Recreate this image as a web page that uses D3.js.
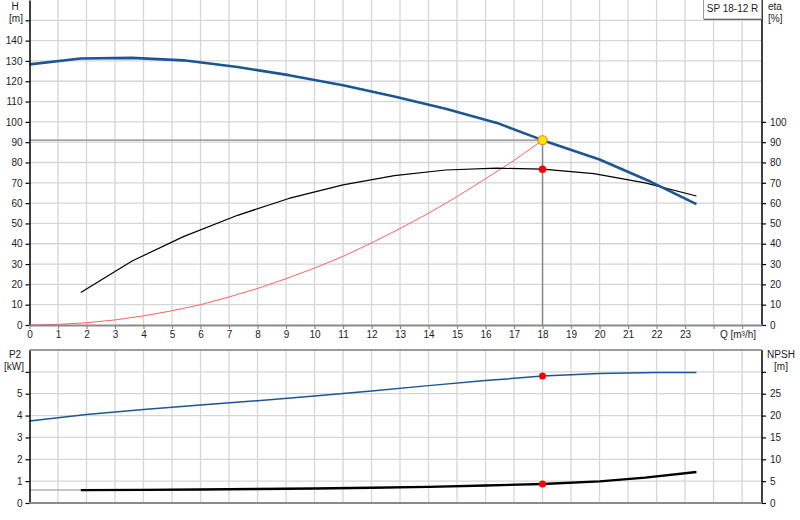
<!DOCTYPE html>
<html>
<head>
<meta charset="utf-8">
<script src="https://cdn.jsdelivr.net/npm/d3@7"></script>
<style>
  body { margin: 0; background: #fff; }
  svg text { font-family: "Liberation Sans", Arial, sans-serif; font-size: 10px; fill: #1c1c28; }
</style>
</head>
<body>
<svg id="chart" width="800" height="520"></svg>
<script>
// pump data
var qTicks = d3.range(0, 26);            // 0..25, only 0..23 carry a label
var hTicks = d3.range(0, 160, 10);       // 0..150
var etaTicks = d3.range(0, 110, 10);     // 0..100
var p2Ticks = d3.range(0, 7);            // 0..6
var npshTicks = d3.range(0, 35, 5);      // 0..30

// head curve H [m]
var qHead = [0, 1.8, 3.6, 5.4, 7.3, 9.1, 11, 12.8, 14.6, 16.4, 18, 20, 21.8, 23.4];
var head = [128.3, 131.2, 131.5, 130.3, 127, 123, 118, 112.5, 106.5, 99.5, 91, 81.5, 70.5, 59.5];

// efficiency eta [%]
var qEta = [1.8, 3.6, 5.4, 7.3, 9.1, 11, 12.8, 14.6, 16.4, 18, 19.8, 21.6, 23.4];
var eta = [16, 31.5, 43.5, 54, 62.3, 69, 73.5, 76.3, 77.2, 76.7, 74.5, 70, 63.5];

// system curve (red) up to the duty point
var qSystem = [0, 1, 2, 3, 4, 5, 6, 7, 8, 9, 10, 11, 12, 13, 14, 15, 16, 17, 18];
var system = [0, 0.3, 1.1, 2.5, 4.5, 7, 10, 13.8, 18, 22.8, 28, 33.8, 40.4, 47.5, 55, 63.2, 72, 81, 91];

// shaft power P2 [kW]
var qPower = [0, 2, 4, 6, 8, 10, 12, 14, 16, 18, 20, 22, 23.4];
var power = [3.75, 4.05, 4.28, 4.48, 4.68, 4.9, 5.12, 5.37, 5.6, 5.81, 5.93, 5.97, 5.97];

// NPSH [m]
var qNpsh = [1.8, 4, 6, 8, 10, 12, 14, 16, 18, 20, 21.6, 23.4];
var npsh = [2.95, 3.0, 3.1, 3.2, 3.3, 3.5, 3.7, 4.0, 4.35, 4.95, 5.8, 7.1];
var qNpshLow = [0, 1.8];
var npshLow = [2.95, 2.95];

// duty point
var dutyQ = 18, dutyH = 91, dutyEta = 76.7, dutyP2 = 5.81, dutyNpsh = 4.35;

var svg = d3.select('#chart');

var xLeft = 29.5, xRight = 762;
var x = d3.scaleLinear().domain([0, 25.7]).range([xLeft, xRight]);

// upper plot: H and eta share the same scale
var topY0 = 325, topY1 = 0;
var yH = d3.scaleLinear().domain([0, 160]).range([topY0, topY1]);

// lower plot: P2 left, NPSH right (5 m = 1 kW)
var botY0 = 503, botY1 = 350;
var yP = d3.scaleLinear().domain([0, 7]).range([botY0, botY1]);
var yN = d3.scaleLinear().domain([0, 35]).range([botY0, botY1]);

var gridColor = '#d6d6d6';

/**
 * vertical + horizontal grid for one panel
 */
function drawGrid(yScale, yValues, yTop, yBottom) {
	var g = svg.append('g').attr('class', 'grid');
	g.selectAll('line.v').data(qTicks.slice(1)).enter().append('line')
		.attr('x1', function(d) { return x(d); })
		.attr('x2', function(d) { return x(d); })
		.attr('y1', yTop).attr('y2', yBottom)
		.style('stroke', gridColor).style('stroke-width', 1.3);
	g.selectAll('line.h').data(yValues.slice(1)).enter().append('line')
		.attr('x1', xLeft).attr('x2', xRight)
		.attr('y1', function(d) { return yScale(d); })
		.attr('y2', function(d) { return yScale(d); })
		.style('stroke', gridColor).style('stroke-width', 1.3);
}

drawGrid(yH, hTicks, topY0, topY1);
drawGrid(yP, p2Ticks, botY0, botY1);

function pairs(xs, ys) {
	return xs.map(function(q, i) { return [q, ys[i]]; });
}

function drawCurve(xs, ys, yScale, color, width) {
	var line = d3.line()
		.x(function(d) { return x(d[0]); })
		.y(function(d) { return yScale(d[1]); });
	svg.append('path')
		.datum(pairs(xs, ys))
		.attr('d', line)
		.style('fill', 'none')
		.style('stroke', color)
		.style('stroke-width', width)
		.style('stroke-linejoin', 'round');
}

// duty point guide lines (H to the left axis, Q down to the x axis)
svg.append('line')
	.attr('x1', xLeft).attr('x2', x(dutyQ))
	.attr('y1', yH(dutyH)).attr('y2', yH(dutyH))
	.style('stroke', '#858585').style('stroke-width', 1.4);
svg.append('line')
	.attr('x1', x(dutyQ)).attr('x2', x(dutyQ))
	.attr('y1', yH(dutyH)).attr('y2', topY0)
	.style('stroke', '#858585').style('stroke-width', 1.4);

// upper curves
drawCurve(qSystem, system, yH, '#ff6060', 1);
drawCurve(qEta, eta, yH, '#000', 1.2);
drawCurve(qHead, head, yH, '#1c5694', 2.6);

// lower curves
drawCurve(qPower, power, yP, '#1c5694', 1.5);
drawCurve(qNpshLow, npshLow, yN, '#b0b0b0', 1.5);
drawCurve(qNpsh, npsh, yN, '#000', 2.4);

// markers
svg.append('circle').attr('cx', x(dutyQ)).attr('cy', yH(dutyEta)).attr('r', 3.8).style('fill', '#ff0000');
svg.append('circle').attr('cx', x(dutyQ)).attr('cy', yP(dutyP2)).attr('r', 3.5).style('fill', '#ff0000');
svg.append('circle').attr('cx', x(dutyQ)).attr('cy', yN(dutyNpsh)).attr('r', 3.5).style('fill', '#ff0000');
svg.append('circle').attr('cx', x(dutyQ)).attr('cy', yH(dutyH)).attr('r', 4.5)
	.style('fill', '#ffe800').style('stroke', '#ff8a20').style('stroke-width', 1.3);

/**
 * style an axis group: black domain + ticks, labels in the chart font
 */
function styleAxis(g, color) {
	g.select('.domain').style('stroke', color).style('stroke-width', 1.5);
	g.selectAll('.tick line').style('stroke', color).style('stroke-width', 1.2);
	g.selectAll('.tick text').style('font-size', '10px').style('font-family', '"Liberation Sans", Arial, sans-serif').attr('fill', '#1c1c28');
}

// upper plot axes
var axH = d3.axisLeft(yH).tickValues(hTicks).tickSize(4).tickPadding(3).tickSizeOuter(0)
	.tickFormat(function(d) { return d < 150 ? d : ''; });
var gH = svg.append('g').attr('transform', 'translate(' + xLeft + ',0)').call(axH);
styleAxis(gH, '#000');

var axEta = d3.axisRight(yH).tickValues(etaTicks).tickSize(4).tickPadding(4).tickSizeOuter(0);
var gEta = svg.append('g').attr('transform', 'translate(' + xRight + ',0)').call(axEta);
gEta.select('.domain').attr('d', 'M0,' + topY0 + 'V' + topY1);
styleAxis(gEta, '#000');

var axQ = d3.axisBottom(x).tickValues(qTicks).tickSize(4).tickPadding(2).tickSizeOuter(0)
	.tickFormat(function(d) { return d <= 23 ? d : ''; });
var gQ = svg.append('g').attr('transform', 'translate(0,' + topY0 + ')').call(axQ);
styleAxis(gQ, '#8a8a8a');
gQ.select('.domain').style('stroke-width', 2);

// lower plot axes
var axP = d3.axisLeft(yP).tickValues(p2Ticks).tickSize(4).tickPadding(3).tickSizeOuter(0)
	.tickFormat(function(d) { return d < 6 ? d : ''; });
var gP = svg.append('g').attr('transform', 'translate(' + xLeft + ',0)').call(axP);
styleAxis(gP, '#000');

var axN = d3.axisRight(yN).tickValues(npshTicks).tickSize(4).tickPadding(4).tickSizeOuter(0)
	.tickFormat(function(d) { return d < 30 ? d : ''; });
var gN = svg.append('g').attr('transform', 'translate(' + xRight + ',0)').call(axN);
gN.select('.domain').attr('d', 'M0,' + botY0 + 'V' + botY1);
styleAxis(gN, '#000');

// lower plot frame: grey top and bottom edges
svg.append('line').attr('x1', xLeft).attr('x2', xRight).attr('y1', botY1).attr('y2', botY1)
	.style('stroke', '#7a7a7a').style('stroke-width', 1.5);
svg.append('line').attr('x1', xLeft).attr('x2', xRight).attr('y1', botY0).attr('y2', botY0)
	.style('stroke', '#8a8a8a').style('stroke-width', 2);

// axis titles
function label(txt, xx, yy, anchor) {
	svg.append('text').attr('x', xx).attr('y', yy).attr('text-anchor', anchor || 'middle').text(txt);
}
label('H', 15, 10);
label('[m]', 16, 22);
label('eta', 768, 10, 'start');
label('[%]', 768, 22, 'start');
label('Q [m\u00b3/h]', 738, 338);
label('P2', 15, 358);
label('[kW]', 14, 370);
label('NPSH', 781, 358);
label('[m]', 781, 370);

// pump name box
svg.append('rect').attr('x', 703.5).attr('y', -1).attr('width', 58).attr('height', 20)
	.style('fill', '#fff').style('stroke', '#9a9a9a').style('stroke-width', 1);
svg.append('line').attr('x1', 704).attr('x2', 762).attr('y1', 19.5).attr('y2', 19.5)
	.style('stroke', '#666').style('stroke-width', 1);
label('SP 18-12 R', 732.5, 12);
</script>
</body>
</html>
